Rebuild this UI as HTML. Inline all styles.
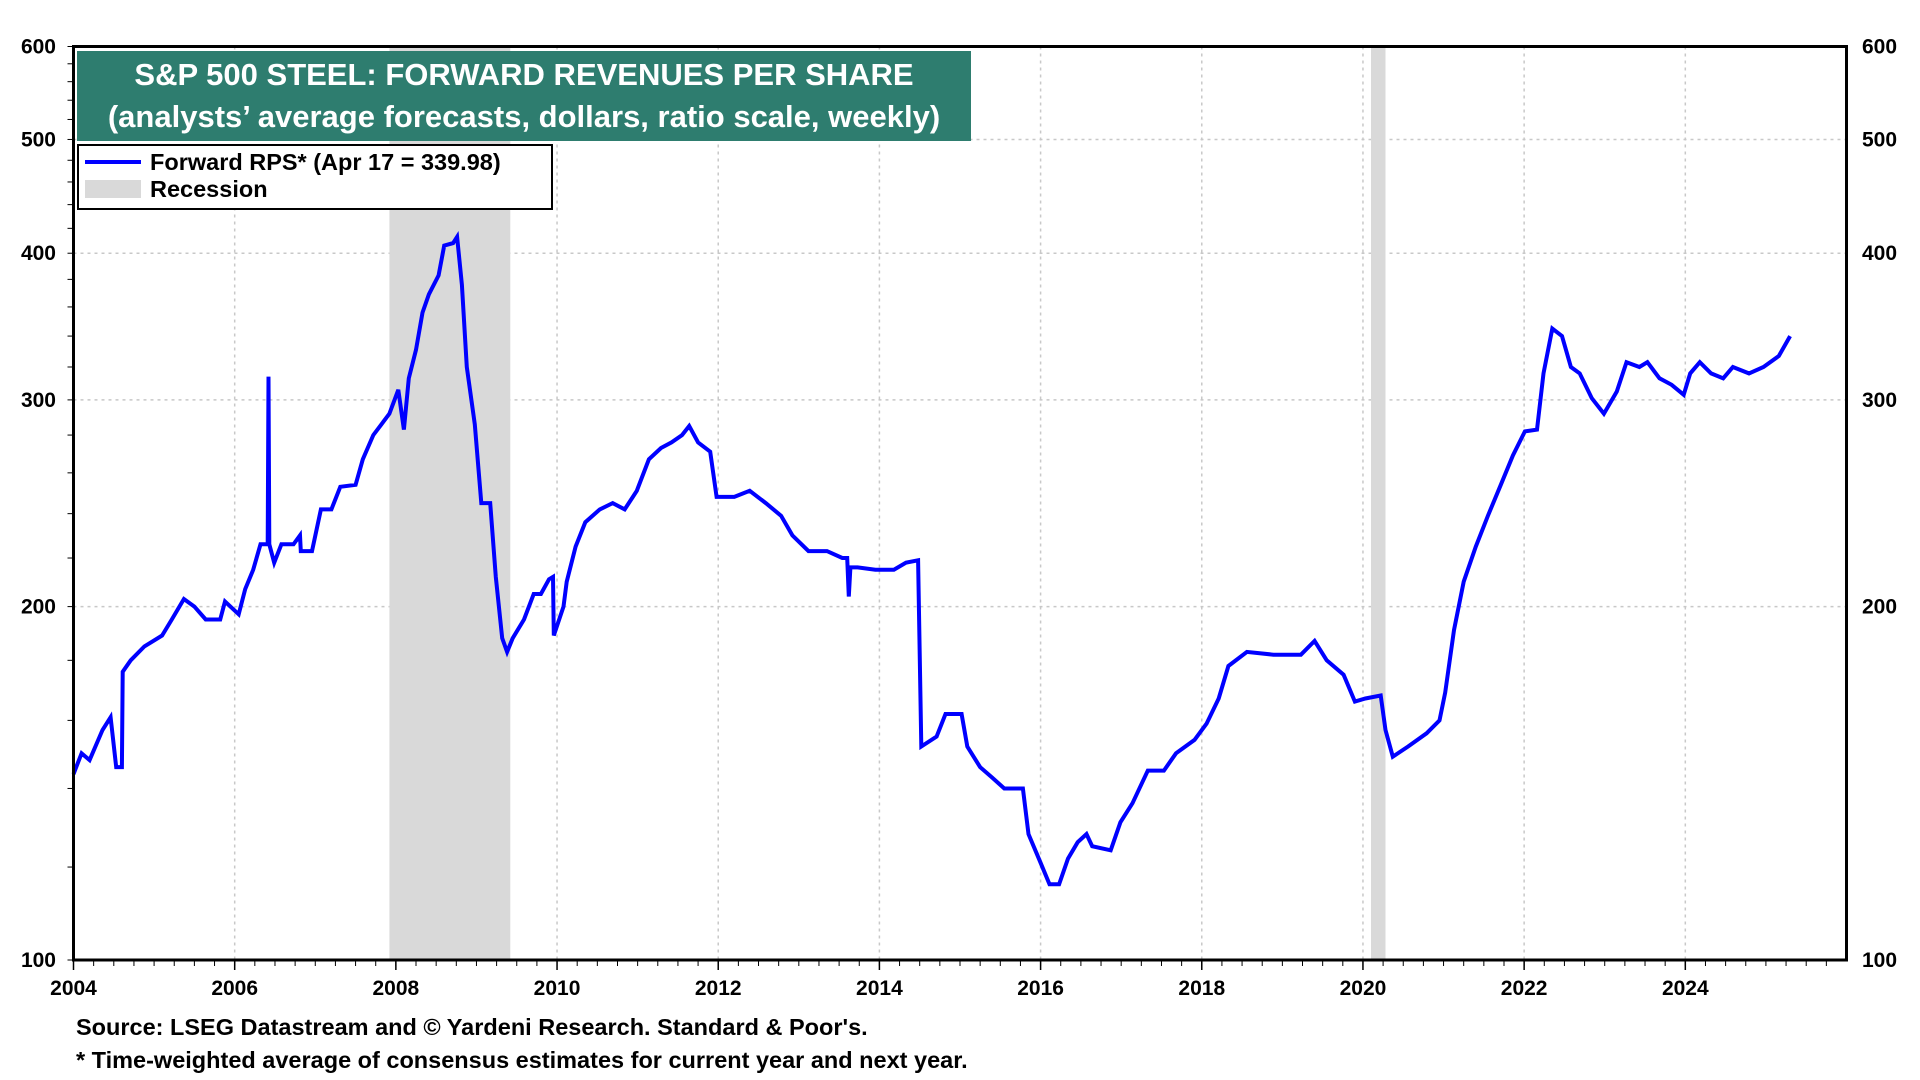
<!DOCTYPE html>
<html><head><meta charset="utf-8"><style>
body{margin:0;background:#fff}
svg{display:block;font-family:"Liberation Sans",Arial,sans-serif;font-weight:bold}
</style></head><body>
<svg id="chart" width="1920" height="1080" viewBox="0 0 1920 1080">
<g id="grid"></g>
<g id="rec"></g>
<g id="series"></g>
<rect x="73.5" y="46.5" width="1773" height="913.5" fill="none" stroke="#000" stroke-width="3"/>
<g id="axes"></g>
<g>
<rect x="77" y="51" width="894" height="90" fill="#2e7d6f"/>
<text x="524" y="85" fill="#fff" font-size="31" text-anchor="middle">S&amp;P 500 STEEL: FORWARD REVENUES PER SHARE</text>
<text x="524" y="127" fill="#fff" font-size="31" text-anchor="middle">(analysts’ average forecasts, dollars, ratio scale, weekly)</text>
</g>
<g>
<rect x="78" y="145" width="474" height="64" fill="#fff" stroke="#000" stroke-width="2"/>
<line x1="85" y1="162" x2="141" y2="162" stroke="#0000ff" stroke-width="4"/>
<text x="150" y="170" font-size="23.5">Forward RPS* (Apr 17 = 339.98)</text>
<rect x="85" y="180" width="56" height="18" fill="#d9d9d9"/>
<text x="150" y="197" font-size="23.5">Recession</text>
</g>
<text x="76" y="1035" font-size="23.5">Source: LSEG Datastream and © Yardeni Research. Standard &amp; Poor's.</text>
<text x="76" y="1068" font-size="23.5">* Time-weighted average of consensus estimates for current year and next year.</text>
</svg>
<script>
const years=[2004.0,2004.1,2004.2,2004.36,2004.46,2004.53,2004.6,2004.61,2004.71,2004.88,2005.1,2005.22,2005.37,2005.5,2005.64,2005.82,2005.88,2006.05,2006.13,2006.23,2006.32,2006.41,2006.42,2006.43,2006.49,2006.58,2006.73,2006.81,2006.82,2006.96,2007.07,2007.2,2007.31,2007.5,2007.59,2007.72,2007.92,2008.03,2008.1,2008.16,2008.25,2008.33,2008.41,2008.53,2008.6,2008.71,2008.76,2008.82,2008.88,2008.98,2009.06,2009.17,2009.24,2009.32,2009.38,2009.45,2009.59,2009.71,2009.8,2009.9,2009.95,2009.96,2010.08,2010.12,2010.23,2010.35,2010.53,2010.69,2010.84,2010.99,2011.14,2011.29,2011.42,2011.55,2011.64,2011.75,2011.9,2011.98,2012.2,2012.39,2012.59,2012.78,2012.92,2013.12,2013.35,2013.54,2013.6,2013.62,2013.64,2013.73,2013.95,2014.18,2014.33,2014.48,2014.52,2014.71,2014.82,2015.02,2015.09,2015.25,2015.4,2015.55,2015.78,2015.85,2016.0,2016.11,2016.23,2016.34,2016.46,2016.57,2016.64,2016.87,2016.99,2017.14,2017.33,2017.53,2017.68,2017.91,2018.06,2018.21,2018.33,2018.56,2018.89,2019.23,2019.4,2019.55,2019.76,2019.9,2020.03,2020.22,2020.28,2020.37,2020.56,2020.79,2020.95,2021.02,2021.13,2021.25,2021.4,2021.55,2021.71,2021.86,2022.01,2022.16,2022.24,2022.35,2022.47,2022.58,2022.69,2022.84,2022.99,2023.15,2023.27,2023.43,2023.53,2023.68,2023.83,2023.98,2024.06,2024.18,2024.32,2024.47,2024.59,2024.79,2024.97,2025.16,2025.3];
const rps=[144,150,148,157,161,146,146,176,180,185,189,195,203,200,195,195,202,197,207,215,226,226,314,226,218,226,226,230,223,223,242,242,253,254,267,280,292,306,283,313,331,356,369,383,406,408,413,376,320,286,245,245,212,188,183,188,195,205,205,211,212,189,200,210,225,236,242,245,242,251,267,273,276,280,285,276,271,248,248,251,245,239,230,223,223,220,220,204,216,216,215,215,218,219,152,155,162,162,152,146,143,140,140,128,121,116,116,122,126,128,125,124,131,136,145,145,150,154,159,167,178,183,182,182,187,180,175,166,167,168,157,149,152,156,160,169,191,210,225,239,254,269,282,283,316,345,340,320,316,301,292,305,323,320,323,313,309,303,316,323,316,313,320,316,320,327,340];
const recessions=[[2007.92,2009.42],[2020.1,2020.28]];
const yTicks=[100,200,300,400,500,600];
const xTicks=[2004,2006,2008,2010,2012,2014,2016,2018,2020,2022,2024];
const L=73.5,R=1846.5,T=46.5,B=960,x0=2004,x1=2026,vMin=100,vMax=600;
const X=v=>L+(v-x0)/(x1-x0)*(R-L);
const Y=v=>B-Math.log(v/vMin)/Math.log(vMax/vMin)*(B-T);
const NS="http://www.w3.org/2000/svg";
function mk(tag,attrs,parent){const e=document.createElementNS(NS,tag);for(const k in attrs)e.setAttribute(k,attrs[k]);document.getElementById(parent).appendChild(e);return e;}
xTicks.forEach(t=>{if(t>x0){const g=mk('line',{x1:X(t),x2:X(t),y1:T,y2:B,stroke:'#c8c8c8','stroke-width':1.5,'stroke-dasharray':'3,4'},'grid');

}
const lb=mk('text',{x:X(t),y:995,'font-size':21,'text-anchor':'middle'},'axes');lb.textContent=t;


const tk=mk('line',{x1:X(t),x2:X(t),y1:B,y2:B+10,stroke:'#000','stroke-width':1.5},'axes');

});
for(let m=x0;m<x1;m+=0.25){const tk=mk('line',{x1:X(m),x2:X(m),y1:B,y2:B+6,stroke:'#000','stroke-width':1},'axes');

}
yTicks.forEach(t=>{if(t>vMin&&t<vMax){const g=mk('line',{x1:L,x2:R,y1:Y(t),y2:Y(t),stroke:'#c8c8c8','stroke-width':1.5,'stroke-dasharray':'3,4'},'grid');

}
const a=mk('text',{x:56,y:Y(t)+7,'font-size':21,'text-anchor':'end'},'axes');a.textContent=t;


const b=mk('text',{x:1862,y:Y(t)+7,'font-size':21},'axes');b.textContent=t;

});
for(let v=100;v<=600;v+=20){const tk=mk('line',{x1:L-6,x2:L,y1:Y(v),y2:Y(v),stroke:'#000','stroke-width':1},'axes');

}
recessions.forEach(r=>{const e=mk('rect',{x:X(r[0]),y:T,width:X(r[1])-X(r[0]),height:B-T,fill:'#d9d9d9'},'rec');

});
const p=mk('polyline',{points:years.map((y,i)=>X(y).toFixed(1)+','+Y(rps[i]).toFixed(1)).join(' '),fill:'none',stroke:'#0000ff','stroke-width':4,'stroke-linejoin':'miter'},'series');


</script>
</body></html>
